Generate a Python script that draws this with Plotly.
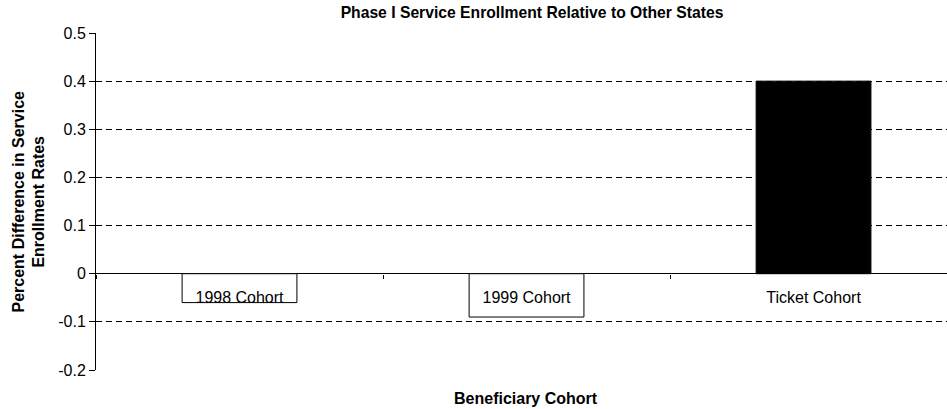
import plotly.graph_objects as go

categories = ["1998 Cohort", "1999 Cohort", "Ticket Cohort"]
values = [-0.06, -0.09, 0.40]
bar_colors = ["white", "white", "black"]
y_ticks = [-0.2, -0.1, 0, 0.1, 0.2, 0.3, 0.4, 0.5]
y_ticktext = ["-0.2", "-0.1", "0", "0.1", "0.2", "0.3", "0.4", "0.5"]
grid_vals = [-0.1, 0.1, 0.2, 0.3, 0.4]

y_range = [-0.2, 0.5]
x_range = [-0.5, 2.465]
font = "Liberation Sans, Arial, sans-serif"

fig = go.Figure()
fig.add_trace(go.Bar(
    x=categories, y=values, width=0.4,
    marker=dict(color=bar_colors, line=dict(color="black", width=1)),
    showlegend=False,
))
# invisible trace on overlay axis to drive gridlines
fig.add_trace(go.Scatter(x=categories, y=values, yaxis="y2", mode="markers",
                         marker=dict(opacity=0), showlegend=False, hoverinfo="skip"))

zero_pos = (0 - y_range[0]) / (y_range[1] - y_range[0])

fig.update_layout(
    width=947, height=409,
    margin=dict(l=96, r=0, t=33, b=39),
    plot_bgcolor="white", paper_bgcolor="white",
    font=dict(family=font, size=16, color="black"),
    title=dict(text="<b>Phase I Service Enrollment Relative to Other States</b>",
               x=532 / 947, xref="container", xanchor="center",
               y=1 - 13 / 409, yref="container", yanchor="middle",
               font=dict(size=15.7, family=font)),
    xaxis=dict(range=x_range, type="category", anchor="free", position=zero_pos,
               showline=False, showgrid=False, zeroline=False,
               ticks="outside", ticklen=4, tickcolor="black", tickson="boundaries",
               tickfont=dict(size=16), ticklabelstandoff=12),
    yaxis=dict(range=y_range, tickvals=y_ticks, ticktext=y_ticktext,
               showgrid=False, zeroline=True, zerolinecolor="black", zerolinewidth=1,
               showline=True, linecolor="black", linewidth=1,
               ticks="outside", ticklen=6, tickcolor="black",
               tickfont=dict(size=16)),
    yaxis2=dict(range=y_range, overlaying="y", tickvals=grid_vals, showticklabels=False,
                showgrid=True, gridcolor="black", gridwidth=1, griddash="6px,4px",
                zeroline=False, showline=False, ticks=""),
    annotations=[
        dict(text="<b>Percent Difference in Service<br>Enrollment Rates</b>",
             xref="paper", yref="paper", x=(28 - 96) / 851, y=0.5,
             xanchor="center", yanchor="middle", textangle=-90, showarrow=False,
             font=dict(size=16, family=font)),
        dict(text="<b>Beneficiary Cohort</b>", xref="paper", yref="paper",
             x=(526 - 96) / 851, y=-(398 - 370) / 337, xanchor="center", yanchor="middle",
             showarrow=False, font=dict(size=16, family=font)),
    ],
)

fig.write_html("out.html", config={"displayModeBar": False},
               post_script="document.body.style.margin='0';")
